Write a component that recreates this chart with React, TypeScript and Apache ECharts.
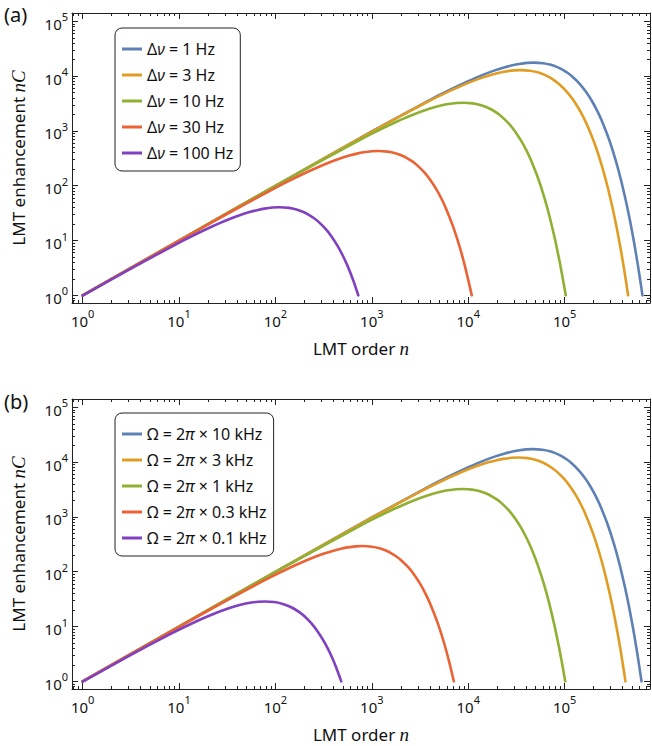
import React, { useEffect, useRef } from "react";
import * as echarts from "echarts";

// ---------- data ----------
const xMajorTicks = [1, 10, 100, 1000, 10000, 100000];
const yMajorTicks = [1, 10, 100, 1000, 10000, 100000];

const legendA = ["Δν = 1 Hz", "Δν = 3 Hz", "Δν = 10 Hz", "Δν = 30 Hz", "Δν = 100 Hz"];
const legendB = [
  "Ω = 2π × 10 kHz",
  "Ω = 2π × 3 kHz",
  "Ω = 2π × 1 kHz",
  "Ω = 2π × 0.3 kHz",
  "Ω = 2π × 0.1 kHz",
];

// panel (a): [n, nC]
const aDnu1 = [
  [1, 1], [10, 10], [100, 99.8], [1000, 979.4], [4800, 4343], [9600, 7860], [14400, 10668],
  [19200, 12870], [24000, 14557], [28800, 15806], [33600, 16685], [40800, 17439],
  [48000, 17658], [60000, 17190], [72000, 16065], [84000, 14597], [96000, 12992],
  [108000, 11383], [120000, 9850], [144000, 7169], [168000, 5073], [192000, 3517],
  [216000, 2400], [240000, 1617], [288000, 714], [336000, 306.4], [384000, 128.8],
  [432000, 53.3], [480000, 21.8], [528000, 8.82], [576000, 3.54], [624000, 1.41],
  [641760, 1.0],
];
const aDnu3 = [
  [1, 1], [10, 10], [100, 99.7], [1000, 971.8], [3500, 3167], [7000, 5731], [10500, 7779],
  [14000, 9384], [17500, 10614], [21000, 11525], [24500, 12166], [29750, 12716],
  [35000, 12876], [43750, 12535], [52500, 11714], [61250, 10644], [70000, 9473],
  [78750, 8300], [87500, 7182], [105000, 5228], [122500, 3699], [140000, 2564],
  [157500, 1750], [175000, 1179], [210000, 520.6], [245000, 223.4], [280000, 93.9],
  [315000, 38.9], [350000, 15.9], [385000, 6.43], [420000, 2.58], [456000, 1.0],
];
const aDnu10 = [
  [1, 1], [10, 9.99], [100, 98.9], [890, 805.3], [1780, 1457], [2670, 1978], [3560, 2386],
  [4450, 2699], [5340, 2931], [6230, 3094], [7565, 3233], [8900, 3274], [11125, 3187],
  [13350, 2979], [15575, 2707], [17800, 2409], [20025, 2111], [22250, 1826], [26700, 1329],
  [31150, 940.6], [35600, 652.0], [40050, 444.9], [44500, 299.8], [53400, 132.4],
  [62300, 56.8], [71200, 23.9], [80100, 9.88], [89000, 4.04], [97900, 1.635],
  [102700, 1.0],
];
const aDnu30 = [
  [1, 1], [10, 9.91], [30, 29.24], [117, 105.9], [234, 191.6], [351, 260.0], [468, 313.7],
  [585, 354.8], [702, 385.3], [819, 406.7], [994.5, 425.1], [1170, 430.4], [1462.5, 419.0],
  [1755, 391.6], [2047.5, 355.8], [2340, 316.7], [2632.5, 277.5], [2925, 240.1],
  [3510, 174.8], [4095, 123.7], [4680, 85.7], [5265, 58.5], [5850, 39.4], [7020, 17.4],
  [8190, 7.47], [9360, 3.14], [10530, 1.3], [10874, 1.0],
];
const aDnu100 = [
  [1, 0.991], [3, 2.919], [11, 9.953], [22, 18.01], [33, 24.45], [44, 29.49], [55, 33.36],
  [66, 36.22], [77, 38.24], [93.5, 39.96], [110, 40.47], [137.5, 39.39], [165, 36.82],
  [192.5, 33.45], [220, 29.77], [247.5, 26.09], [275, 22.57], [330, 16.43], [385, 11.63],
  [440, 8.06], [495, 5.5], [550, 3.71], [605, 2.47], [660, 1.636], [724, 1.0],
];

// panel (b): [n, nC]
const bOm10 = [
  [1, 1], [10, 10], [100, 99.8], [1000, 978.9], [4700, 4253], [9400, 7696], [14100, 10446],
  [18800, 12602], [23500, 14254], [28200, 15476], [32900, 16338], [39950, 17075],
  [47000, 17290], [58750, 16832], [70500, 15731], [82250, 14293], [94000, 12722],
  [105750, 11146], [117500, 9645], [141000, 7020], [164500, 4967], [188000, 3443],
  [211500, 2350], [235000, 1583], [282000, 699.0], [329000, 300.0], [376000, 126.1],
  [423000, 52.2], [470000, 21.34], [517000, 8.63], [564000, 3.47], [611000, 1.382],
  [627450, 1.0],
];
const bOm3 = [
  [1, 1], [10, 10], [100, 99.7], [1000, 970.2], [3300, 2986], [6600, 5404], [9900, 7334],
  [13200, 8848], [16500, 10008], [19800, 10866], [23100, 11471], [28050, 11989],
  [33000, 12140], [41250, 11818], [49500, 11045], [57750, 10035], [66000, 8932],
  [74250, 7826], [82500, 6772], [99000, 4929], [115500, 3488], [132000, 2418],
  [148500, 1650], [165000, 1112], [198000, 490.8], [231000, 210.6], [264000, 88.6],
  [297000, 36.6], [330000, 14.98], [363000, 6.06], [396000, 2.43], [427900, 1.0],
];
const bOm1 = [
  [1, 1], [10, 9.99], [100, 98.9], [880, 796.3], [1760, 1441], [2640, 1956], [3520, 2360],
  [4400, 2669], [5280, 2898], [6160, 3059], [7480, 3197], [8800, 3237], [11000, 3152],
  [13200, 2945], [15400, 2676], [17600, 2382], [19800, 2087], [22000, 1806], [26400, 1314],
  [30800, 930.1], [35200, 644.7], [39600, 439.9], [44000, 296.5], [52800, 130.9],
  [61600, 56.2], [70400, 23.6], [79200, 9.77], [88000, 4.0], [96800, 1.617],
  [101440, 1.0],
];
const bOm03 = [
  [1, 0.999], [10, 9.88], [30, 28.9], [80, 72.39], [160, 131.0], [240, 177.8], [320, 214.5],
  [400, 242.6], [480, 263.4], [560, 278.1], [680, 290.6], [800, 294.3], [1000, 286.5],
  [1200, 267.8], [1400, 243.3], [1600, 216.5], [1800, 189.7], [2000, 164.2], [2400, 119.5],
  [2800, 84.55], [3200, 58.6], [3600, 39.99], [4000, 26.95], [4800, 11.9], [5600, 5.11],
  [6400, 2.15], [7094, 1.0],
];
const bOm01 = [
  [1, 0.987], [3, 2.887], [7.8, 7.058], [15.6, 12.77], [23.4, 17.34], [31.2, 20.91],
  [39, 23.65], [46.8, 25.68], [54.6, 27.11], [66.3, 28.34], [78, 28.69], [97.5, 27.93],
  [117, 26.11], [136.5, 23.72], [156, 21.11], [175.5, 18.5], [195, 16.01], [234, 11.65],
  [273, 8.24], [312, 5.71], [351, 3.9], [390, 2.63], [429, 1.753], [482, 1.0],
];

const seriesA = [aDnu1, aDnu3, aDnu10, aDnu30, aDnu100];
const seriesB = [bOm10, bOm3, bOm1, bOm03, bOm01];

// ---------- style ----------
const palette = ["#5E81B5", "#E19C24", "#8FB032", "#EB6235", "#8040C0"];
const FONT = "'Noto Sans', 'DejaVu Sans', sans-serif";
const SERIF = "'Liberation Serif', 'DejaVu Serif', serif";
const INK = "#111";
const FRAME = "#222";

const X_MIN = 0.776;
const X_MAX = 7.69e5;
const Y_MIN = 0.7244;
const Y_MAX = 1.419e5;
const GRID_LEFT = 72;
const GRID_W = 578;
const GRID_H = 290;
const GRID_TOPS = [13, 399];

function minorTicks(lo: number, hi: number): number[] {
  const out: number[] = [];
  for (let e = -1; e <= 6; e++) {
    for (let m = 2; m <= 9; m++) {
      const v = parseFloat((m * Math.pow(10, e)).toPrecision(6));
      if (v > lo && v < hi) out.push(v);
    }
  }
  return out;
}
const xMinor = minorTicks(X_MIN, X_MAX);
const yMinor = minorTicks(Y_MIN, Y_MAX);

const powLabel = (v: number) => `{b|10}{s|${Math.round(Math.log10(v))}}`;
const powRich = {
  b: { fontSize: 15, fontFamily: FONT, color: INK, lineHeight: 20, verticalAlign: "bottom" },
  s: { fontSize: 11, fontFamily: FONT, color: INK, lineHeight: 12, verticalAlign: "top" },
};

function xAxes(gi: number) {
  const base = {
    type: "log",
    gridIndex: gi,
    min: X_MIN,
    max: X_MAX,
    splitLine: { show: false },
    minorTick: { show: false },
    silent: true,
  };
  const line = { show: true, lineStyle: { color: FRAME, width: 1 } };
  const tickStyle = { color: FRAME, width: 1 };
  return [
    {
      ...base,
      position: "bottom",
      axisLine: line,
      axisTick: { show: true, inside: true, length: 6, customValues: xMajorTicks, lineStyle: tickStyle },
      axisLabel: {
        show: true,
        customValues: xMajorTicks,
        formatter: powLabel,
        rich: powRich,
        margin: 5,
        color: INK,
        fontFamily: FONT,
        fontSize: 15,
      },
      name: "LMT order {i|n}",
      nameLocation: "middle",
      nameGap: 36,
      nameMoveOverlap: false,
      nameTextStyle: {
        fontFamily: FONT,
        fontSize: 17,
        lineHeight: 18,
        color: INK,
        rich: {
          i: { fontFamily: SERIF, fontStyle: "italic", fontSize: 19, lineHeight: 18, color: INK },
        },
      },
    },
    {
      ...base,
      position: "bottom",
      axisLine: { show: false },
      axisTick: { show: true, inside: true, length: 3, customValues: xMinor, lineStyle: tickStyle },
      axisLabel: { show: false },
    },
    {
      ...base,
      position: "top",
      axisLine: line,
      axisTick: { show: true, inside: true, length: 6, customValues: xMajorTicks, lineStyle: tickStyle },
      axisLabel: { show: false },
    },
    {
      ...base,
      position: "top",
      axisLine: { show: false },
      axisTick: { show: true, inside: true, length: 3, customValues: xMinor, lineStyle: tickStyle },
      axisLabel: { show: false },
    },
  ];
}

function yAxes(gi: number) {
  const base = {
    type: "log",
    gridIndex: gi,
    min: Y_MIN,
    max: Y_MAX,
    splitLine: { show: false },
    minorTick: { show: false },
    silent: true,
  };
  const line = { show: true, lineStyle: { color: FRAME, width: 1 } };
  const tickStyle = { color: FRAME, width: 1 };
  return [
    {
      ...base,
      position: "left",
      axisLine: line,
      axisTick: { show: true, inside: true, length: 6, customValues: yMajorTicks, lineStyle: tickStyle },
      axisLabel: {
        show: true,
        customValues: yMajorTicks,
        formatter: powLabel,
        rich: powRich,
        margin: 4,
        color: INK,
        fontFamily: FONT,
        fontSize: 15,
      },
      name: "LMT enhancement {i|n}{c|C}",
      nameLocation: "middle",
      nameGap: 44,
      nameMoveOverlap: false,
      nameTextStyle: {
        fontFamily: FONT,
        fontSize: 17,
        color: INK,
        rich: {
          i: { fontFamily: SERIF, fontStyle: "italic", fontSize: 19, color: INK },
          c: { fontFamily: SERIF, fontStyle: "italic", fontSize: 19, color: INK },
        },
      },
    },
    {
      ...base,
      position: "left",
      axisLine: { show: false },
      axisTick: { show: true, inside: true, length: 3, customValues: yMinor, lineStyle: tickStyle },
      axisLabel: { show: false },
    },
    {
      ...base,
      position: "right",
      axisLine: line,
      axisTick: { show: true, inside: true, length: 6, customValues: yMajorTicks, lineStyle: tickStyle },
      axisLabel: { show: false },
    },
    {
      ...base,
      position: "right",
      axisLine: { show: false },
      axisTick: { show: true, inside: true, length: 3, customValues: yMinor, lineStyle: tickStyle },
      axisLabel: { show: false },
    },
  ];
}

function legendFor(names: string[], gi: number, italicChar: string) {
  return {
    orient: "vertical",
    left: 115,
    top: gi === 0 ? 28 : 413,
    data: names,
    icon: "rect",
    itemWidth: 20,
    itemHeight: 3,
    itemGap: 8,
    padding: [12, 7, 9, 7],
    borderColor: FRAME,
    borderWidth: 1,
    borderRadius: 7,
    backgroundColor: "#fff",
    selectedMode: false,
    formatter: (name: string) => name.replace(italicChar, `{i|${italicChar}}`),
    textStyle: {
      fontFamily: FONT,
      fontSize: 16,
      color: INK,
      lineHeight: 18,
      rich: {
        i: { fontFamily: FONT, fontStyle: "italic", fontSize: 16, color: INK, lineHeight: 18 },
      },
    },
  };
}

export default function App() {
  const ref = useRef<HTMLDivElement>(null);

  useEffect(() => {
    if (!ref.current) return;
    const chart = echarts.init(ref.current, undefined, { renderer: "svg" });

    const series: any[] = [];
    [seriesA, seriesB].forEach((group, gi) => {
      const names = gi === 0 ? legendA : legendB;
      group.forEach((data, k) => {
        series.push({
          type: "line",
          name: names[k],
          xAxisIndex: gi * 4,
          yAxisIndex: gi * 4,
          data,
          showSymbol: false,
          symbol: "none",
          smooth: 0.15,
          silent: true,
          lineStyle: { width: 2.6, color: palette[k], cap: "round", join: "round" },
          itemStyle: { color: palette[k] },
        });
      });
    });

    const option: any = {
      animation: false,
      backgroundColor: "#fff",
      textStyle: { fontFamily: FONT },
      grid: GRID_TOPS.map((t) => ({
        left: GRID_LEFT,
        top: t,
        width: GRID_W,
        height: GRID_H,
        containLabel: false,
        outerBoundsMode: "none",
      })),
      xAxis: [...xAxes(0), ...xAxes(1)],
      yAxis: [...yAxes(0), ...yAxes(1)],
      legend: [legendFor(legendA, 0, "ν"), legendFor(legendB, 1, "π")],
      series,
      graphic: [
        {
          type: "text",
          left: 4,
          top: 4,
          style: { text: "(a)", fontFamily: FONT, fontSize: 20, fill: INK },
        },
        {
          type: "text",
          left: 4,
          top: 391,
          style: { text: "(b)", fontFamily: FONT, fontSize: 20, fill: INK },
        },
      ],
    };

    chart.setOption(option);
    return () => chart.dispose();
  }, []);

  return (
    <div
      ref={ref}
      style={{ position: "absolute", left: 0, top: 0, width: 652, height: 746, background: "#fff" }}
    />
  );
}
